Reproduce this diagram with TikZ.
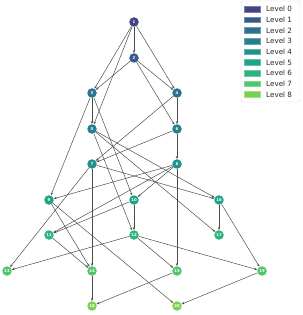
\documentclass[tikz,border=0pt]{standalone}
\usepackage{fontspec}
\setmainfont{DejaVu Sans}
\usetikzlibrary{arrows.meta}
\definecolor{Lv0}{HTML}{414487}
\definecolor{Lv1}{HTML}{375A8C}
\definecolor{Lv2}{HTML}{2C728E}
\definecolor{Lv3}{HTML}{277E8E}
\definecolor{Lv4}{HTML}{21918C}
\definecolor{Lv5}{HTML}{20A386}
\definecolor{Lv6}{HTML}{2EB37C}
\definecolor{Lv7}{HTML}{51C56A}
\definecolor{Lv8}{HTML}{7AD151}
\begin{document}
\begin{tikzpicture}[x=1pt,y=-1pt,
  nd/.style={circle, inner sep=0pt, minimum size=9.5pt, fill=Lv#1, text=white,
    font=\fontsize{3.9}{4}\selectfont\bfseries},
  ed/.style={draw=black!70, line width=0.5pt, -{Stealth[length=3pt,width=2.4pt]}},
  legpatch/.style={fill=Lv#1, draw=Lv#1!70!white, line width=0.3pt, minimum width=16pt, minimum height=5.6pt, inner sep=0pt},
  legtext/.style={anchor=west, inner sep=0pt, font=\fontsize{7.2}{8}\selectfont, text=black!85}]
\useasboundingbox (0,0) rectangle (302,315);
% nodes
\node[nd=0] (n1) at (134,22) {1};
\node[nd=1] (n2) at (134,58) {2};
\node[nd=2] (n3) at (92,93) {3};
\node[nd=2] (n4) at (177,93) {4};
\node[nd=3] (n5) at (92,129) {5};
\node[nd=3] (n6) at (177,129) {6};
\node[nd=4] (n7) at (92,164) {7};
\node[nd=4] (n8) at (177,164) {8};
\node[nd=5] (n9) at (49,200) {9};
\node[nd=5] (n10) at (134,200) {10};
\node[nd=5] (n16) at (219,200) {16};
\node[nd=6] (n11) at (49,235) {11};
\node[nd=6] (n12) at (134,235) {12};
\node[nd=6] (n17) at (219,235) {17};
\node[nd=7] (n13) at (7,271) {13};
\node[nd=7] (n14) at (92,271) {14};
\node[nd=7] (n15) at (177,271) {15};
\node[nd=7] (n19) at (262,271) {19};
\node[nd=8] (n18) at (92,306) {18};
\node[nd=8] (n20) at (177,306) {20};
% edges
\foreach \a/\b in {1/2,1/3,1/4,1/5,2/3,2/4,2/6,3/5,3/9,3/10,4/6,4/7,5/12,5/16,5/17,
  6/7,6/8,7/13,7/14,7/16,8/9,8/10,8/11,8/15,9/14,9/20,10/11,10/12,11/14,
  12/13,12/15,12/19,14/18,15/18,16/17,16/19,19/20}
  \draw[ed] (n\a) -- (n\b);
% legend
\node[draw=black!15, rounded corners=1.5pt, fill=white, minimum width=59pt, minimum height=101pt, inner sep=0pt] (leg) at (270.5,51.5) {};
\foreach \i in {0,...,8} {
  \node[legpatch=\i] (lp\i) at (252,9+10.67*\i) {};
  \node[legtext] (lt\i) at (266,9+10.67*\i) {Level \i};
}
\end{tikzpicture}
\end{document}
